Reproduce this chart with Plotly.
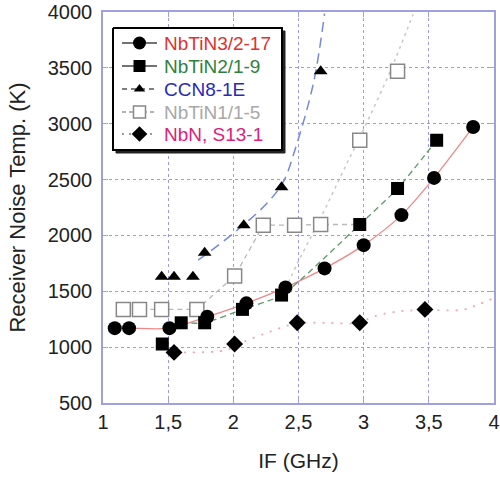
import plotly.graph_objects as go

# ---- data ----
nb3_x = [1.09, 1.20, 1.51, 1.80, 2.10, 2.40, 2.70, 3.00, 3.29, 3.54, 3.84]
nb3_y = [1170, 1170, 1170, 1272, 1392, 1535, 1705, 1913, 2182, 2515, 2971]

nb2_x = [1.455, 1.60, 1.78, 2.07, 2.37, 2.97, 3.26, 3.56]
nb2_y = [1028, 1218, 1218, 1338, 1466, 2098, 2420, 2852]

ccn_x = [1.45, 1.545, 1.69, 1.78, 2.08, 2.37, 2.67]
ccn_y = [1630, 1630, 1630, 1844, 2092, 2432, 3470]
ccn_fit_x = [1.73, 2.0, 2.256, 2.383, 2.472, 2.614, 2.70]
ccn_fit_y = [1779, 2018, 2286, 2479, 2763, 3360, 3986]

nb1_x = [1.156, 1.28, 1.45, 1.72, 2.01, 2.23, 2.47, 2.67, 2.97, 3.26]
nb1_y = [1338, 1338, 1338, 1338, 1636, 2092, 2092, 2098, 2852, 3470]
nb1_link_x = [1.156, 1.28, 1.45, 1.72, 2.01, 2.23, 2.47, 2.67, 2.97]
nb1_link_y = [1338, 1338, 1338, 1338, 1636, 2092, 2092, 2098, 2098]
nb1_fit_x = [2.40, 2.50, 2.65, 2.87, 3.02, 3.20, 3.38]
nb1_fit_y = [1520, 1770, 2110, 2640, 3000, 3460, 3980]

nbn_x = [1.545, 2.01, 2.49, 2.97, 3.47]
nbn_y = [953, 1028, 1218, 1218, 1338]
nbn_fit_x = [1.55, 1.95, 2.08, 2.28, 2.49, 2.74, 2.97, 3.07, 3.25, 3.47, 3.76, 3.87, 3.98]
nbn_fit_y = [955, 975, 1048, 1138, 1213, 1216, 1218, 1272, 1317, 1332, 1335, 1377, 1430]

x_ticks = [1, 1.5, 2, 2.5, 3, 3.5, 4]
x_ticktext = ["1", "1,5", "2", "2,5", "3", "3,5", "4"]
y_ticks = [500, 1000, 1500, 2000, 2500, 3000, 3500, 4000]

names = ["NbTiN3/2-17", "NbTiN2/1-9", "CCN8-1E", "NbTiN1/1-5", "NbN, S13-1"]
name_colors = ["#e03030", "#2e8040", "#2a2ab8", "#a8a8a8", "#e0207a"]

FONT = "Arial, Liberation Sans, sans-serif"
fig = go.Figure()

# ---- curves ----
fig.add_trace(go.Scatter(x=nb3_x, y=nb3_y, mode="lines", line=dict(color="#ee8888", width=1.3, shape="spline", smoothing=0.8), showlegend=False, hoverinfo="skip"))
fig.add_trace(go.Scatter(x=nb2_x[1:], y=nb2_y[1:], mode="lines", line=dict(color="#5f9a6a", width=1.3, dash="6px,4px", shape="spline", smoothing=0.6), showlegend=False, hoverinfo="skip"))
fig.add_trace(go.Scatter(x=ccn_fit_x, y=ccn_fit_y, mode="lines", line=dict(color="#7788dd", width=1.5, dash="10px,6px", shape="spline"), showlegend=False, hoverinfo="skip"))
fig.add_trace(go.Scatter(x=nb1_link_x, y=nb1_link_y, mode="lines", line=dict(color="#b8b8b8", width=1.3, dash="5px,4px"), showlegend=False, hoverinfo="skip"))
fig.add_trace(go.Scatter(x=nb1_fit_x, y=nb1_fit_y, mode="lines", line=dict(color="#c8c8c8", width=1.5, dash="3px,4px", shape="spline"), showlegend=False, hoverinfo="skip"))
fig.add_trace(go.Scatter(x=nbn_fit_x, y=nbn_fit_y, mode="lines", line=dict(color="#f0a8b8", width=1.8, dash="2px,7px", shape="spline"), showlegend=False, hoverinfo="skip"))

# ---- markers ----
fig.add_trace(go.Scatter(x=nb1_x, y=nb1_y, mode="markers", marker=dict(symbol="square", size=14, color="white", line=dict(color="#888888", width=1.5)), showlegend=False))
fig.add_trace(go.Scatter(x=nbn_x, y=nbn_y, mode="markers", marker=dict(symbol="diamond", size=13, color="black"), showlegend=False))
fig.add_trace(go.Scatter(x=ccn_x, y=ccn_y, mode="markers", marker=dict(symbol="triangle-up", size=12, color="black"), showlegend=False))
fig.add_trace(go.Scatter(x=nb2_x, y=nb2_y, mode="markers", marker=dict(symbol="square", size=13, color="black"), showlegend=False))
fig.add_trace(go.Scatter(x=nb3_x, y=nb3_y, mode="markers", marker=dict(symbol="circle", size=14, color="black"), showlegend=False))

# ---- hand-drawn legend on an overlay axis in plot-fraction units ----
PW, PH, L, T = 391.0, 391.0, 103.0, 12.0
def fx(px):
    return (px - L) / PW
def fy(py):
    return (T + PH - py) / PH

bx0, bx1, by0, by1 = 113, 282, 28, 150
sh = 3
fig.add_trace(go.Scatter(x=[fx(bx0 + sh), fx(bx1 + sh), fx(bx1 + sh), fx(bx0 + sh), fx(bx0 + sh)],
                         y=[fy(by0 + sh), fy(by0 + sh), fy(by1 + sh), fy(by1 + sh), fy(by0 + sh)],
                         mode="lines", fill="toself", fillcolor="#222", line=dict(color="#222", width=1),
                         xaxis="x2", yaxis="y2", showlegend=False, hoverinfo="skip"))
fig.add_trace(go.Scatter(x=[fx(bx0), fx(bx1), fx(bx1), fx(bx0), fx(bx0)],
                         y=[fy(by0), fy(by0), fy(by1), fy(by1), fy(by0)],
                         mode="lines", fill="toself", fillcolor="white", line=dict(color="black", width=2),
                         xaxis="x2", yaxis="y2", showlegend=False, hoverinfo="skip"))

row_py = [43, 66, 89, 112, 134]
leg_lines = [dict(color="#444", width=1.3, dash="solid"),
             dict(color="#444", width=1.3, dash="solid"),
             dict(color="#555", width=1.3, dash="5px,4px"),
             dict(color="#999", width=1.3, dash="4px,3px"),
             dict(color="#999", width=1.8, dash="2px,5px")]
leg_markers = [dict(symbol="circle", size=13, color="black"),
               dict(symbol="square", size=12, color="black"),
               dict(symbol="triangle-up", size=10, color="black"),
               dict(symbol="square", size=12, color="white", line=dict(color="#888", width=1.5)),
               dict(symbol="diamond", size=12, color="black")]
for py, ln, mk, nm, col in zip(row_py, leg_lines, leg_markers, names, name_colors):
    fig.add_trace(go.Scatter(x=[fx(122), fx(157)], y=[fy(py), fy(py)], mode="lines", line=ln,
                             xaxis="x2", yaxis="y2", showlegend=False, hoverinfo="skip"))
    fig.add_trace(go.Scatter(x=[fx(139.5)], y=[fy(py)], mode="markers", marker=mk,
                             xaxis="x2", yaxis="y2", showlegend=False, hoverinfo="skip"))
    fig.add_annotation(x=fx(162), y=fy(py), xref="x2", yref="y2", text=nm, showarrow=False,
                       xanchor="left", yanchor="middle", font=dict(size=19, color=col, family=FONT))

grid_col = "#9a9ae6"
axis_col = "#a0a0e0"
fig.update_layout(
    width=500, height=478,
    margin=dict(l=103, r=6, t=12, b=75),
    paper_bgcolor="white", plot_bgcolor="white",
    font=dict(family=FONT, color="#222"),
    showlegend=False,
    xaxis=dict(range=[1, 4], tickvals=x_ticks, ticktext=x_ticktext, automargin=False,
               showgrid=True, gridcolor=grid_col, griddash="dot", gridwidth=1,
               showline=True, linecolor=axis_col, linewidth=1.5, mirror="ticks",
               ticks="inside", ticklen=5, tickcolor=axis_col, zeroline=False,
               tickfont=dict(size=20), title=dict(text="IF (GHz)", font=dict(size=21), standoff=22)),
    yaxis=dict(range=[500, 4000], tickvals=y_ticks, automargin=False,
               showgrid=True, gridcolor=grid_col, griddash="dot", gridwidth=1,
               showline=True, linecolor=axis_col, linewidth=1.5, mirror="ticks",
               ticks="inside", ticklen=5, tickcolor=axis_col, zeroline=False,
               tickfont=dict(size=20), ticklabelstandoff=5,
               title=dict(text="Receiver Noise Temp. (K)", font=dict(size=22), standoff=16)),
    xaxis2=dict(overlaying="x", range=[0, 1], visible=False, fixedrange=True),
    yaxis2=dict(overlaying="y", range=[0, 1], visible=False, fixedrange=True),
)

fig.write_html("out.html")
